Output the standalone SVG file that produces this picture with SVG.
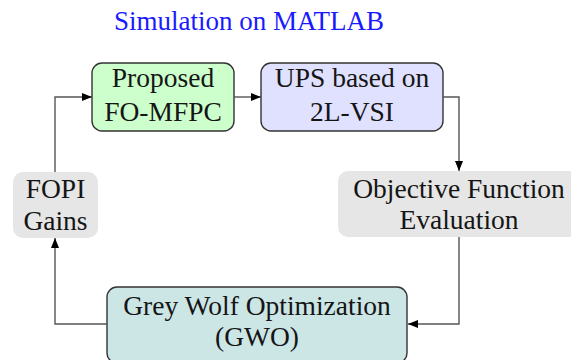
<svg xmlns="http://www.w3.org/2000/svg" width="571" height="360" viewBox="0 0 571 360">
<defs>
<marker id="arr" viewBox="0 0 10 8" refX="10" refY="4" markerWidth="10" markerHeight="8" markerUnits="userSpaceOnUse" orient="auto">
<path d="M0,0 L10,4 L0,8 Z" fill="#000"/>
</marker>
<style>
text{font-family:"Liberation Serif","DejaVu Serif",serif;font-size:27.5px;fill:#151515;text-anchor:middle}
.box{stroke:#333;stroke-width:1.4}
.conn{fill:none;stroke:#555;stroke-width:1.4}
</style>
</defs>
<rect width="571" height="360" fill="#fff"/>
<text x="249" y="30" style="fill:#1a1aff;font-size:27px">Simulation on MATLAB</text>
<g id="proposed">
<rect class="box" x="92" y="63" width="142" height="68" rx="10" fill="#ccffcc"/>
<text x="163" y="87">Proposed</text>
<text x="163" y="121">FO-MFPC</text>
</g>
<g id="ups">
<rect class="box" x="261" y="63" width="182" height="68" rx="10" fill="#e0e0ff"/>
<text x="352" y="87">UPS based on</text>
<text x="352" y="121">2L-VSI</text>
</g>
<g id="objective">
<rect x="338" y="171" width="242" height="66" rx="10" fill="#e6e6e6"/>
<text x="459" y="198">Objective Function</text>
<text x="459" y="229">Evaluation</text>
</g>
<g id="fopi">
<rect x="13" y="172" width="85" height="66" rx="10" fill="#e6e6e6"/>
<text x="55.5" y="198">FOPI</text>
<text x="55.5" y="230">Gains</text>
</g>
<g id="gwo">
<rect class="box" x="107" y="287" width="300" height="76" rx="10" fill="#cce6e6"/>
<text x="257" y="315">Grey Wolf Optimization</text>
<text x="257" y="346">(GWO)</text>
</g>
<g id="connectors">
<path class="conn" d="M234,97 H261" marker-end="url(#arr)"/>
<path class="conn" d="M443,97 H459 V171" marker-end="url(#arr)"/>
<path class="conn" d="M459,237 V324 H408" marker-end="url(#arr)"/>
<path class="conn" d="M107,324 H55 V238" marker-end="url(#arr)"/>
<path class="conn" d="M55,172 V97 H92" marker-end="url(#arr)"/>
</g>
</svg>
